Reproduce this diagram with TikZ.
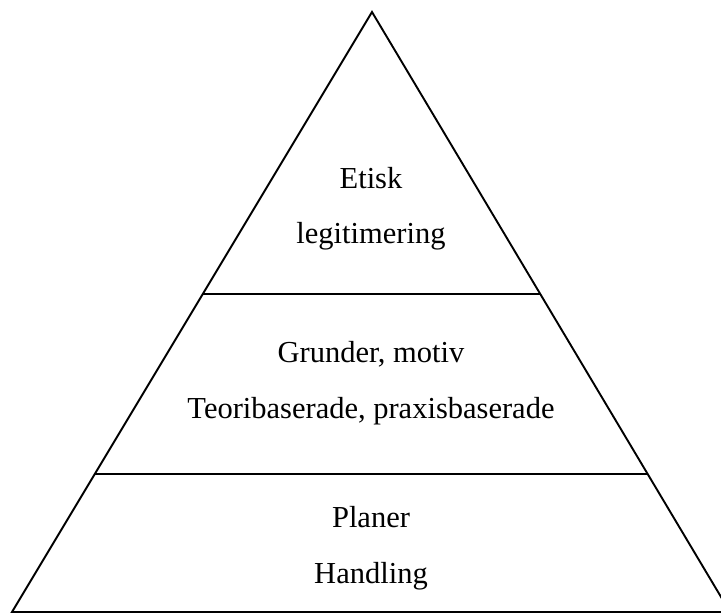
\documentclass[tikz,border=0pt]{standalone}
\usepackage{fontspec}
\setmainfont{Liberation Serif}
\usetikzlibrary{calc}
\begin{document}
\begin{tikzpicture}[x=1pt,y=-1pt,
  edge/.style={line width=1.9pt,line join=miter},
  label/.style={anchor=base,inner sep=0pt,font=\fontsize{30.5}{36}\selectfont}]
\useasboundingbox (0,0) rectangle (721,613);
\clip (0,0) rectangle (721,613);
\coordinate (apex) at (372,12);
\coordinate (bl) at (12,612);
\coordinate (br) at (730,612);
\draw[edge] (bl) -- (apex) -- (br) -- cycle;
\coordinate (l1) at ($(apex)!0.47!(bl)$);
\coordinate (r1) at ($(apex)!0.47!(br)$);
\coordinate (l2) at ($(apex)!0.77!(bl)$);
\coordinate (r2) at ($(apex)!0.77!(br)$);
\draw[edge] (l1) -- (r1);
\draw[edge] (l2) -- (r2);
\node[label] (t1) at (371,188) {Etisk};
\node[label] (t2) at (371,243) {legitimering};
\node[label] (t3) at (371,362) {Grunder, motiv};
\node[label] (t4) at (371,418) {Teoribaserade, praxisbaserade};
\node[label] (t5) at (371,527) {Planer};
\node[label] (t6) at (371,583) {Handling};
\end{tikzpicture}
\end{document}
